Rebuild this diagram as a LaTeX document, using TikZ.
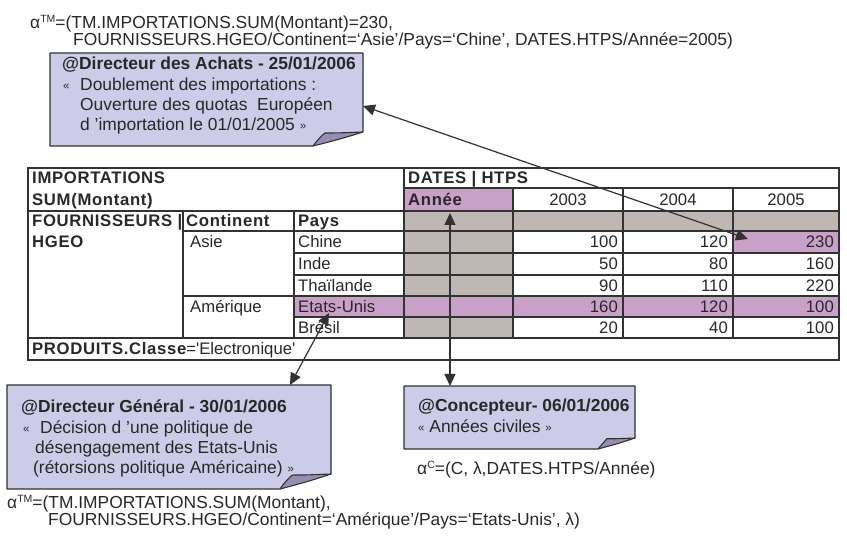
\documentclass[tikz,border=0pt]{standalone}
\usepackage{fontspec}
\setmainfont{Liberation Sans}
\newfontfamily\tabbf{Liberation Sans}[LetterSpace=4]
\usetikzlibrary{arrows.meta,calc}
\definecolor{notec}{RGB}{204,204,232}
\definecolor{foldc}{RGB}{150,142,176}
\definecolor{magc}{RGB}{200,160,200}
\definecolor{greyc}{RGB}{191,183,179}
\definecolor{linec}{RGB}{50,50,50}
\definecolor{textc}{RGB}{40,40,40}
\newcommand\annsize{\fontsize{17.4}{20}\selectfont}
\newcommand\tabsize{\fontsize{16.7}{20}\selectfont}
\newcommand\gqo{\raisebox{1pt}{\fontsize{11.5}{11.5}\selectfont «}}
\newcommand\gqc{\raisebox{1pt}{\fontsize{11.5}{11.5}\selectfont »}}
\newcommand\supx[1]{\raisebox{6pt}{\fontsize{10.5}{10.5}\selectfont #1}}
\newcommand\drawnote[6]{%
  \fill[notec] (#1,#2) -- (#3,#2) -- (#3,#4-#6) .. controls (#3-0.45*#5,#4-0.5*#6) .. (#3-#5,#4) -- (#1,#4) -- cycle;
  \fill[foldc] (#3-#5,#4) .. controls (#3-0.88*#5,#4-0.55*#6) .. (#3-0.76*#5,#4-0.93*#6) .. controls (#3-0.5*#5,#4-0.93*#6) .. (#3,#4-#6) .. controls (#3-0.45*#5,#4-0.5*#6) .. (#3-#5,#4) -- cycle;
  \draw[notedraw] (#3-#5,#4) .. controls (#3-0.88*#5,#4-0.55*#6) .. (#3-0.76*#5,#4-0.93*#6) .. controls (#3-0.5*#5,#4-0.93*#6) .. (#3,#4-#6);
  \draw[notedraw] (#1,#2) -- (#3,#2) -- (#3,#4-#6) .. controls (#3-0.45*#5,#4-0.5*#6) .. (#3-#5,#4) -- (#1,#4) -- cycle;
}
\tikzset{
  notedraw/.style={draw=linec, line width=1.1pt, line join=round},
  inl/.style={draw=linec, line width=1.6pt},
  outl/.style={draw=linec, line width=2.2pt},
  ann/.style={inner sep=0pt, anchor=base west, text=textc, font=\annsize},
  tb/.style={inner sep=0pt, anchor=base west, text=textc, font=\tabsize},
  tbb/.style={inner sep=0pt, anchor=base west, text=textc, font=\tabsize\tabbf\bfseries},
  tbn/.style={inner sep=0pt, anchor=base east, text=textc, font=\tabsize},
  tby/.style={inner sep=0pt, anchor=base, text=textc, font=\tabsize},
  conn/.style={draw=linec, line width=1.2pt, {Triangle[length=12pt,width=11pt]}-{Triangle[length=12pt,width=11pt]}},
}
\begin{document}
\begin{tikzpicture}[x=1pt,y=-1pt]
\useasboundingbox[fill=white] (0,0) rectangle (847,540);

% ---- annotations top
\node[ann] (t1) at (30,29) {α\supx{TM}=(TM.IMPORTATIONS.SUM(Montant)=230,};
\node[ann] (t2) at (73,46) {FOURNISSEURS.HGEO/Continent=‘Asie’/Pays=‘Chine’, DATES.HTPS/Année=2005)};

% ---- note 1
\drawnote{50}{53}{363}{146}{50}{14}
\node[ann, font=\annsize\bfseries] (n1a) at (62,70) {@Directeur des Achats - 25/01/2006};
\node[ann] (n1q) at (63,91) {\gqo};
\node[ann] (n1b) at (80,91) {Doublement des importations :};
\node[ann] (n1c) at (80,111) {Ouverture des quotas\ \ Européen};
\node[ann] (n1d) at (80,131) {d ’importation le 01/01/2005 \gqc};

% ---- table fills
\fill[magc] (404,188) rectangle (513,211);
\fill[greyc] (404,211) rectangle (839,231);
\fill[greyc] (404,231) rectangle (513,338);
\fill[magc] (294,296) rectangle (839,317);
\fill[magc] (733,231) rectangle (839,253);
% table lines
\draw[inl] (404,188) -- (839,188);
\draw[inl] (28,211) -- (839,211);
\draw[inl] (183,231) -- (839,231);
\draw[inl] (294,253) -- (839,253);
\draw[inl] (294,275) -- (839,275);
\draw[inl] (183,296) -- (839,296);
\draw[inl] (294,317) -- (839,317);
\draw[inl] (28,338) -- (839,338);
\draw[inl] (404,168) -- (404,338);
\draw[inl] (513,188) -- (513,338);
\draw[inl] (623,188) -- (623,338);
\draw[inl] (733,188) -- (733,338);
\draw[inl] (183,211) -- (183,338);
\draw[inl] (294,211) -- (294,338);
\draw[outl] (28,168) rectangle (839,360);

% table texts
\node[tbb] (h1) at (32,184) {IMPORTATIONS};
\node[tbb] (h2) at (32,205.5) {SUM(Montant)};
\node[tbb] (h3) at (408,184) {DATES | HTPS};
\node[tbb] (h4) at (408,205.5) {Année};
\node[tby] (y3) at (568,205.5) {2003};
\node[tby] (y4) at (678,205.5) {2004};
\node[tby] (y5) at (786,205.5) {2005};
\node[tbb] (f1) at (32,227) {FOURNISSEURS |};
\node[tbb] (f2) at (32,248) {HGEO};
\node[tbb] (hc) at (186,227) {Continent};
\node[tbb] (hp) at (298,227) {Pays};
\node[tb] (asie) at (190,248) {Asie};
\node[tb] (amer) at (190,312.5) {Amérique};
\node[tb] (p1) at (298,248) {Chine};
\node[tb] (p2) at (298,270) {Inde};
\node[tb] (p3) at (298,291.5) {Thaïlande};
\node[tb] (p4) at (298,312.5) {Etats-Unis};
\node[tb] (p5) at (298,333.5) {Brésil};
\node[tbn] (v11) at (618,248) {100};
\node[tbn] (v12) at (728,248) {120};
\node[tbn] (v13) at (834,248) {230};
\node[tbn] (v21) at (618,270) {50};
\node[tbn] (v22) at (728,270) {80};
\node[tbn] (v23) at (834,270) {160};
\node[tbn] (v31) at (618,291.5) {90};
\node[tbn] (v32) at (728,291.5) {110};
\node[tbn] (v33) at (834,291.5) {220};
\node[tbn] (v41) at (618,312.5) {160};
\node[tbn] (v42) at (728,312.5) {120};
\node[tbn] (v43) at (834,312.5) {100};
\node[tbn] (v51) at (618,333.5) {20};
\node[tbn] (v52) at (728,333.5) {40};
\node[tbn] (v53) at (834,333.5) {100};
\node[tb] (prod) at (32,355) {{\tabbf\bfseries PRODUITS.Classe}=\textquotesingle Electronique\textquotesingle};

% ---- note 2
\drawnote{7}{385}{331}{489}{51}{15}
\node[ann, font=\annsize\bfseries] (n2a) at (21,413) {@Directeur Général - 30/01/2006};
\node[ann] (n2q) at (23,433) {\gqo};
\node[ann] (n2b) at (40,433) {Décision d ’une politique de};
\node[ann] (n2c) at (35,453) {désengagement des Etats-Unis};
\node[ann] (n2d) at (33,473) {(rétorsions politique Américaine) \gqc};

% ---- note 3
\drawnote{404}{386}{635}{449}{37}{11}
\node[ann, font=\annsize\bfseries] (n3a) at (418,411) {@Concepteur- 06/01/2006};
\node[ann] (n3b) at (418,432) {\gqo\ Années civiles \gqc};

\node[ann] (t3) at (417,474) {α\supx{C}=(C, λ,DATES.HTPS/Année)};
\node[ann] (t4) at (7,508) {α\supx{TM}=(TM.IMPORTATIONS.SUM(Montant),};
\node[ann] (t5) at (48,525) {FOURNISSEURS.HGEO/Continent=‘Amérique’/Pays=‘Etats-Unis’, λ)};

% ---- connectors
\coordinate (a1n) at (363,106);
\coordinate (a1c) at (748,239);
\coordinate (a2c) at (329,313);
\coordinate (a2n) at (290,385);
\coordinate (a3c) at (450,213);
\coordinate (a3n) at (450,386);
\draw[conn] (a1n) -- (a1c);
\draw[conn] (a2c) -- (a2n);
\draw[conn] (a3c) -- (a3n);
\end{tikzpicture}
\end{document}
